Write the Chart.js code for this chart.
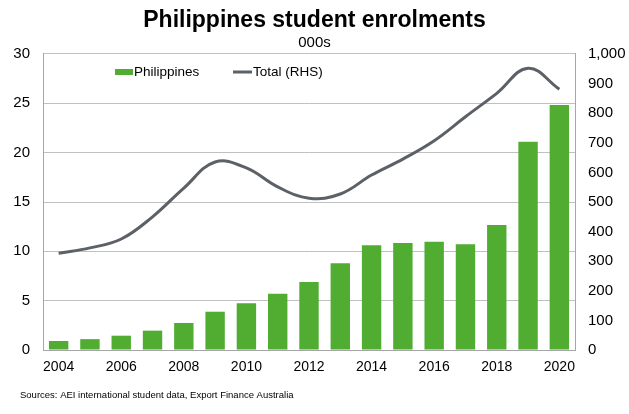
<!DOCTYPE html>
<html>
<head>
<meta charset="utf-8">
<script src="https://cdn.jsdelivr.net/npm/chart.js@4.4.0/dist/chart.umd.min.js"></script>
<style>
  html, body { margin: 0; padding: 0; background: #fff; }
  #wrap { position: relative; width: 629px; height: 414px; }
</style>
</head>
<body>
<div id="wrap"><canvas id="chart"></canvas></div>
<script>
// data
const years = ['2004','2005','2006','2007','2008','2009','2010','2011','2012','2013','2014','2015','2016','2017','2018','2019','2020'];
const philippines = [0.91, 1.1, 1.45, 1.96, 2.74, 3.88, 4.73, 5.71, 6.89, 8.78, 10.61, 10.84, 10.98, 10.71, 12.67, 21.1, 24.83];
const totalRhs = [327, 345, 375, 450, 547, 635, 615, 551, 513, 527, 591, 645, 707, 788, 867, 952, 881];
const leftTicks = [0, 5, 10, 15, 20, 25, 30];
const rightTicks = [0, 100, 200, 300, 400, 500, 600, 700, 800, 900, 1000];

const FONT = "'Liberation Sans', Arial, sans-serif";
const GREEN = '#50ad32';
const GREY_LINE = '#5b6167';
const GRID = '#c0c0c0';

// legend sits inside the plot, so draw it by hand
const insideLegend = {
  id: 'insideLegend',
  afterDraw(chart) {
    const ctx = chart.ctx;
    ctx.save();
    ctx.font = '13.5px ' + FONT;
    ctx.textBaseline = 'middle';
    ctx.fillStyle = GREEN;
    ctx.fillRect(115, 69, 18, 6);
    ctx.fillStyle = '#000';
    ctx.fillText(chart.data.datasets[0].label, 134, 72);
    ctx.strokeStyle = GREY_LINE;
    ctx.lineWidth = 3;
    ctx.beginPath();
    ctx.moveTo(233, 72);
    ctx.lineTo(252, 72);
    ctx.stroke();
    ctx.fillText(chart.data.datasets[1].label, 253, 72);
    // source note
    ctx.font = '9.5px ' + FONT;
    ctx.fillText('Sources: AEI international student data, Export Finance Australia', 20, 395);
    ctx.restore();
  }
};

new Chart(document.getElementById('chart'), {
  data: {
    labels: years,
    datasets: [
      {
        type: 'bar',
        label: 'Philippines',
        data: philippines,
        backgroundColor: GREEN,
        barPercentage: 0.62,
        categoryPercentage: 1,
        yAxisID: 'y',
        order: 1
      },
      {
        type: 'line',
        label: 'Total (RHS)',
        data: totalRhs,
        borderColor: GREY_LINE,
        borderWidth: 3,
        pointRadius: 0,
        tension: 0.4,
        yAxisID: 'y1',
        order: 0
      }
    ]
  },
  options: {
    responsive: true,
    maintainAspectRatio: false,
    animation: false,
    layout: { padding: { left: 0, right: 0, top: 0, bottom: 34 } },
    plugins: {
      legend: { display: false },
      tooltip: { enabled: false },
      title: {
        display: true,
        text: 'Philippines student enrolments',
        color: '#000',
        font: { family: FONT, size: 23, weight: 'bold', lineHeight: 1.2 },
        padding: { top: 6.5, bottom: 0 }
      },
      subtitle: {
        display: true,
        text: '000s',
        color: '#000',
        font: { family: FONT, size: 15, lineHeight: 1.2 },
        padding: { top: 0, bottom: 1.9 }
      }
    },
    scales: {
      x: {
        offset: true,
        grid: { display: false, drawTicks: false },
        border: { display: true, color: '#a6a6a6' },
        ticks: {
          color: '#000',
          font: { family: FONT, size: 14 },
          padding: 9,
          autoSkip: false,
          maxRotation: 0,
          callback: (v, i) => (i % 2 === 0 ? years[i] : '')
        },
        afterFit(s) { s.height = 30; }
      },
      y: {
        position: 'left',
        min: 0,
        max: 30,
        afterBuildTicks(s) { s.ticks = leftTicks.map(v => ({ value: v })); },
        grid: { color: GRID, drawTicks: false },
        border: { display: true, color: '#a6a6a6' },
        ticks: { color: '#000', font: { family: FONT, size: 15 }, padding: 13 },
        afterFit(s) { s.width = 43; }
      },
      y1: {
        position: 'right',
        min: 0,
        max: 1000,
        afterBuildTicks(s) { s.ticks = rightTicks.map(v => ({ value: v })); },
        grid: { display: false, drawTicks: false },
        border: { display: true, color: '#a6a6a6' },
        ticks: {
          color: '#000',
          font: { family: FONT, size: 15 },
          padding: 13,
          callback: v => v.toLocaleString('en-US')
        },
        afterFit(s) { s.width = 54; }
      }
    }
  },
  plugins: [insideLegend]
});
</script>
</body>
</html>
